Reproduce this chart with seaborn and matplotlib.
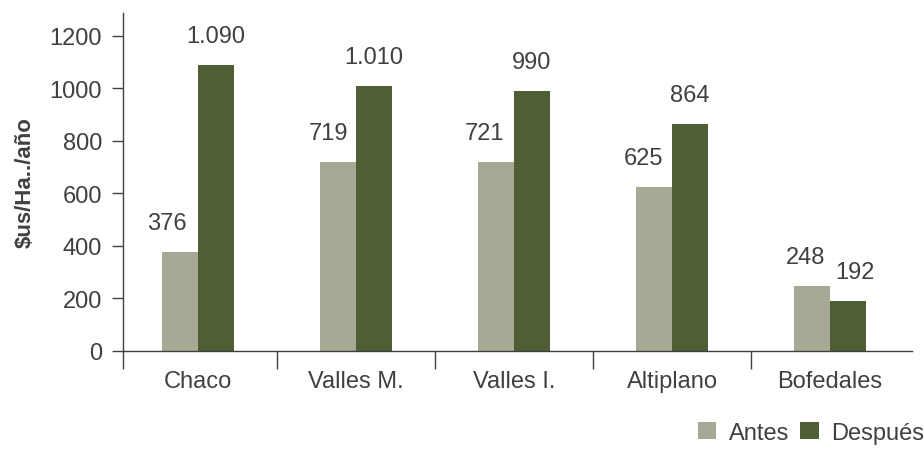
import matplotlib
matplotlib.use("Agg")
import matplotlib.pyplot as plt
from matplotlib.patches import Patch
import pandas as pd
import seaborn as sns

# Income per hectare and year, before and after, by region
regions = ["Chaco", "Valles M.", "Valles I.", "Altiplano", "Bofedales"]
series = ["Antes", "Después"]
antes = [376, 719, 721, 625, 248]
despues = [1090, 1010, 990, 864, 192]
y_ticks = [0, 200, 400, 600, 800, 1000, 1200]
y_label = "$us/Ha../año"

colors = {"Antes": "#A6A993", "Después": "#4F5E34"}
text_color = "#404040"
font = ["Liberation Sans", "DejaVu Sans"]
fs = 17

df = pd.DataFrame({
    "region": regions * 2,
    "serie": [series[0]] * len(regions) + [series[1]] * len(regions),
    "valor": antes + despues,
})

sns.set_theme(style="white")
plt.rcParams["font.family"] = font
plt.rcParams["text.color"] = text_color

fig = plt.figure(figsize=(9.24, 4.52), dpi=100)
ax = fig.add_axes([123 / 924, 100 / 452, 789 / 924, 338 / 452])

sns.barplot(data=df, x="region", y="valor", hue="serie", order=regions,
            hue_order=series, palette=colors, width=0.456, gap=0,
            saturation=1, linewidth=0, legend=False, ax=ax)

ax.set_xlim(-0.475, 4.519)
ax.set_ylim(0, 1287)
ax.set_yticks(y_ticks)
ax.set_yticklabels([str(t) for t in y_ticks], fontsize=fs, color=text_color)

# category labels without marks, boundary marks as minor ticks
ax.set_xticks(range(len(regions)))
ax.set_xticklabels(regions, fontsize=fs, color=text_color)
ax.tick_params(axis="x", which="major", length=0, pad=14)
ax.set_xticks([-0.475, 0.5, 1.5, 2.5, 3.5], minor=True)
ax.tick_params(axis="x", which="minor", length=13, width=1, color=text_color,
               direction="out", bottom=True)
ax.tick_params(axis="y", length=8, width=1, color=text_color, direction="out",
               left=True, pad=7)

ax.set_xlabel("")
ax.set_ylabel(y_label, fontsize=16, fontweight="bold", color=text_color,
              labelpad=10)

for side in ["top", "right"]:
    ax.spines[side].set_visible(False)
for side in ["left", "bottom"]:
    ax.spines[side].set_color(text_color)
    ax.spines[side].set_linewidth(1)

# value labels above each bar (horizontal nudges in pixels)
nudges = {
    "Antes": [-13, -10, -12, -11, -6],
    "Después": [0, 0, 0, 0, 7],
}
for container, name in zip(ax.containers, series):
    for i, bar in enumerate(container):
        v = bar.get_height()
        txt = f"{int(round(v)):,}".replace(",", ".")
        ax.annotate(txt, (bar.get_x() + bar.get_width() / 2, v),
                    xytext=(nudges[name][i], 29), textcoords="offset pixels",
                    ha="center", va="center", fontsize=fs, color=text_color)

handles = [Patch(facecolor=colors[s], edgecolor="none", label=s) for s in series]
fig.legend(handles=handles, loc="lower right", bbox_to_anchor=(1.016, -0.015),
           ncol=2, frameon=False, fontsize=fs, handlelength=0.78,
           handleheight=0.78, handletextpad=0.55, columnspacing=0.45,
           borderaxespad=0.2)

fig.savefig("out.png", dpi=100)
